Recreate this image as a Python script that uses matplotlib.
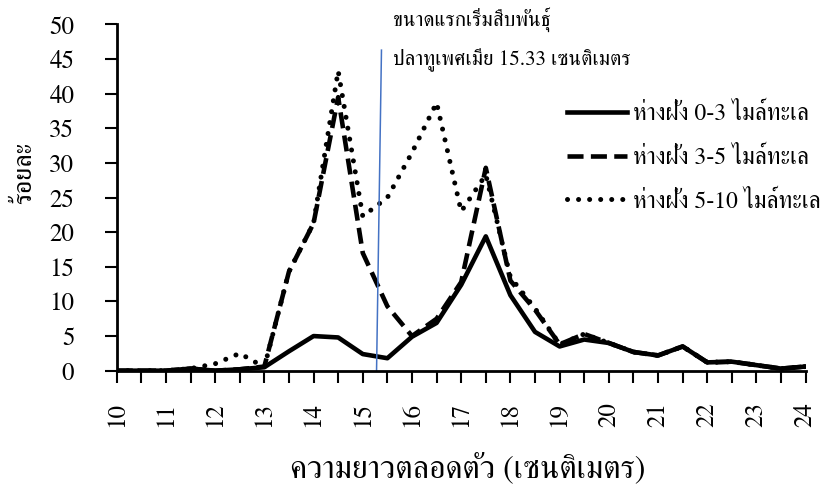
import matplotlib
matplotlib.use("Agg")
import matplotlib.pyplot as plt

lengths = [10, 10.5, 11, 11.5, 12, 12.5, 13, 13.5, 14, 14.5, 15, 15.5, 16, 16.5,
           17, 17.5, 18, 18.5, 19, 19.5, 20, 20.5, 21, 21.5, 22, 22.5, 23, 23.5, 24]
pct_0_3 = [0, 0, 0, 0.3, 0, 0.2, 0.5, 2.8, 5.0, 4.8, 2.4, 1.8, 4.9, 6.9,
           12.4, 19.4, 10.9, 5.6, 3.5, 4.5, 4.0, 2.7, 2.2, 3.5, 1.2, 1.3, 0.8, 0.3, 0.6]
pct_3_5 = [0, 0, 0, 0.3, 0, 0.2, 0.6, 14.3, 21.3, 39.5, 17.0, 9.3, 5.0, 7.5,
           12.8, 29.3, 13.0, 8.8, 3.8, 5.3, 4.0, 2.7, 2.2, 3.5, 1.2, 1.3, 0.8, 0.3, 0.6]
pct_5_10 = [0, 0, 0, 0.3, 1.0, 2.5, 0.5, 14.3, 21.3, 43.3, 22.3, 25.0, 31.5, 38.7,
            23.0, 28.3, 13.5, 9.0, 3.8, 5.3, 4.0, 2.7, 2.2, 3.5, 1.2, 1.3, 0.8, 0.3, 0.6]
series_labels = ["ห่างฝั่ง 0-3 ไมล์ทะเล", "ห่างฝั่ง 3-5 ไมล์ทะเล", "ห่างฝั่ง 5-10 ไมล์ทะเล"]
maturity_size = 15.33
x_ticks = list(range(10, 25))
y_ticks = list(range(0, 55, 5))

plt.rcParams["font.family"] = ["FreeSerif", "Liberation Serif", "DejaVu Serif"]

fig = plt.figure(figsize=(8.39, 4.90), dpi=100)
ax = fig.add_axes([0.1391, 0.2435, 0.8212, 0.7065])

lw = 3.3
ax.plot(lengths, pct_0_3, color="black", lw=lw, solid_joinstyle="round",
        label=series_labels[0])
ax.plot(lengths, pct_3_5, color="black", lw=lw, ls=(0, (3.5, 1.6)),
        dash_capstyle="butt", label=series_labels[1])
ax.plot(lengths, pct_5_10, color="black", lw=3.6, ls=(0, (0.01, 2.2)),
        dash_capstyle="round", label=series_labels[2])

# size at first maturity marker
ax.plot([maturity_size - 0.05, maturity_size + 0.05], [0, 46.3],
        color="#4472C4", lw=1.1)

ax.text(15.62, 50.7, "ขนาดแรกเริ่มสืบพันธุ์", fontsize=15, va="center",
        ha="left", clip_on=False)
ax.text(15.62, 44.9, "ปลาทูเพศเมีย 15.33 เซนติเมตร", fontsize=15, va="center",
        ha="left", clip_on=False)

ax.set_xlim(10, 24)
ax.set_ylim(0, 50)
ax.set_xticks(x_ticks)
ax.set_xticks([t + 0.5 for t in x_ticks[:-1]], minor=True)
ax.set_xticklabels([str(t) for t in x_ticks], rotation=90, fontsize=18)
ax.set_yticks(y_ticks)
ax.set_yticklabels([str(t) for t in y_ticks], fontsize=18)
ax.tick_params(axis="both", which="both", direction="out", length=8.5, width=1.5)
ax.tick_params(axis="x", pad=14)
ax.tick_params(axis="y", pad=22)
for s in ("top", "right"):
    ax.spines[s].set_visible(False)
for s in ("left", "bottom"):
    ax.spines[s].set_linewidth(2.0)

ax.set_ylabel("ร้อยละ", fontsize=19)
ax.yaxis.set_label_coords(-0.115, 0.57)
ax.set_xlabel("ความยาวตลอดตัว (เซนติเมตร)", fontsize=23, labelpad=22)
ax.xaxis.set_label_coords(0.51, -0.235)

ax.legend(loc="upper left", bbox_to_anchor=(0.6535, 0.773), frameon=False,
          fontsize=17, handlelength=2.55, handletextpad=0.25,
          labelspacing=0.9, borderaxespad=0, borderpad=0)

fig.savefig("out.png", dpi=100)
